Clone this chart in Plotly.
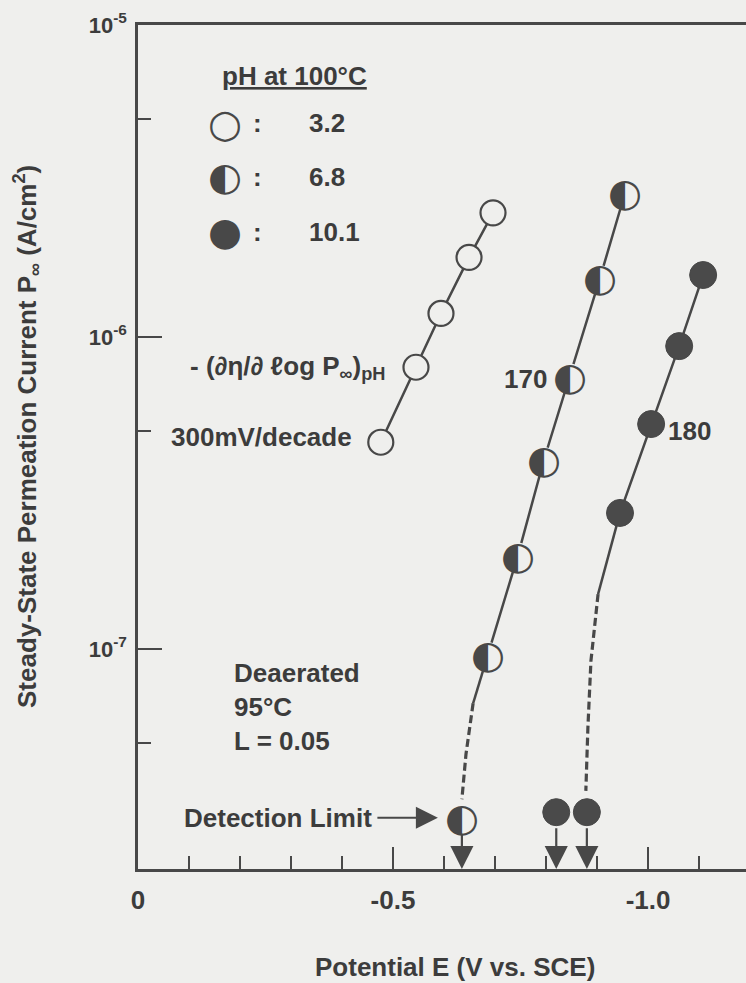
import numpy as np
import plotly.graph_objects as go

# ---------------- data: steady-state permeation current vs potential ----------------
# pH 3.2 (open circles)
E_ph32 = [-0.476, -0.545, -0.594, -0.649, -0.696]
P_ph32 = [4.6e-7, 8.0e-7, 1.19e-6, 1.80e-6, 2.50e-6]

# pH 6.8 (half-filled circles)
E_ph68 = [-0.686, -0.745, -0.796, -0.847, -0.906, -0.955]
P_ph68 = [9.6e-8, 2.0e-7, 4.05e-7, 7.5e-7, 1.55e-6, 2.9e-6]
E_ph68_tail = [-0.686, -0.657]
P_ph68_tail = [9.6e-8, 6.7e-8]
E_ph68_dash = [-0.657, -0.643, -0.635]
P_ph68_dash = [6.7e-8, 4.6e-8, 3.3e-8]
E_ph68_dl = [-0.635]
P_ph68_dl = [2.88e-8]

# pH 10.1 (filled circles)
E_ph101 = [-0.945, -1.006, -1.061, -1.108]
P_ph101 = [2.73e-7, 5.26e-7, 9.35e-7, 1.58e-6]
E_ph101_tail = [-0.945, -0.902]
P_ph101_tail = [2.73e-7, 1.50e-7]
E_ph101_dash = [-0.902, -0.888, -0.882, -0.878]
P_ph101_dash = [1.50e-7, 9.16e-8, 5.58e-8, 3.51e-8]
E_ph101_dl = [-0.820, -0.880]
P_ph101_dl = [3.0e-8, 3.0e-8]

PH_VALUES = ["3.2", "6.8", "10.1"]

# ---------------- axes ----------------
X_RANGE = [0.0, -1.192]
Y_RANGE_LOG = [-7.705, -5.0]
X_MAJOR = [0.0, -0.5, -1.0]
X_MAJOR_TEXT = ["0", "-0.5", "-1.0"]
X_MINOR = [-0.1, -0.2, -0.3, -0.4, -0.6, -0.7, -0.8, -0.9, -1.1]
Y_MAJOR = [1e-5, 1e-6, 1e-7]
Y_MAJOR_TEXT = ["10<sup>-5</sup>", "10<sup>-6</sup>", "10<sup>-7</sup>"]
Y_MINOR = [5e-6, 5e-7, 5e-8]

# ---------------- geometry & style ----------------
W, H = 746, 983
M_L, M_R, M_T, M_B = 138, 0, 25, 114
PLOT_W = W - M_L - M_R
PLOT_H = H - M_T - M_B
PX_PER_DECADE = PLOT_H / (Y_RANGE_LOG[1] - Y_RANGE_LOG[0])

BG = "#efefed"
INK = "#3c3c3c"
LINE = "#484848"
FILL = "#4a4a4a"
FONT = "Liberation Sans, Arial, Helvetica, sans-serif"
GLYPH_FONT = "DejaVu Sans"
MARKER_D = 27
GLYPH_SIZE = 39
GLYPH_YSHIFT = 0


def paper_x(px):
    return (px - M_L) / PLOT_W


def paper_y(py):
    return (H - M_B - py) / PLOT_H


def lines(x, y, dash=None, width=2.5):
    return go.Scatter(x=x, y=y, mode="lines", showlegend=False, hoverinfo="skip",
                      line=dict(color=LINE, width=width, dash=dash))


fig = go.Figure()

# connecting lines and their extensions toward the detection limit
fig.add_trace(lines(E_ph32, P_ph32))
fig.add_trace(lines(E_ph68, P_ph68))
fig.add_trace(lines(E_ph68_tail, P_ph68_tail))
fig.add_trace(lines(E_ph68_dash, P_ph68_dash, dash="8px,4px", width=3.2))
fig.add_trace(lines(E_ph101, P_ph101))
fig.add_trace(lines(E_ph101_tail, P_ph101_tail))
fig.add_trace(lines(E_ph101_dash, P_ph101_dash, dash="8px,4px", width=3.2))

# open circles, pH 3.2
fig.add_trace(go.Scatter(x=E_ph32, y=P_ph32, mode="markers", showlegend=False, hoverinfo="skip",
                         marker=dict(symbol="circle", size=MARKER_D - 2, color=BG,
                                     line=dict(color=LINE, width=2.2))))

# half-filled circles, pH 6.8: background disc, glyph drawn on top
E_half = E_ph68 + E_ph68_dl
P_half = P_ph68 + P_ph68_dl
fig.add_trace(go.Scatter(x=E_half, y=P_half, mode="markers", showlegend=False, hoverinfo="skip",
                         marker=dict(symbol="circle", size=MARKER_D - 2, color=BG,
                                     line=dict(color=BG, width=0))))

# filled circles, pH 10.1
fig.add_trace(go.Scatter(x=E_ph101 + E_ph101_dl, y=P_ph101 + P_ph101_dl, mode="markers",
                         showlegend=False, hoverinfo="skip",
                         marker=dict(symbol="circle", size=MARKER_D, color=FILL,
                                     line=dict(color=LINE, width=1))))

ann = []
for e, p in zip(E_half, P_half):
    ann.append(dict(x=e, y=np.log10(p), xref="x", yref="y", text="\u25d0", showarrow=False,
                    xanchor="center", yanchor="middle", yshift=GLYPH_YSHIFT,
                    font=dict(family=GLYPH_FONT, size=GLYPH_SIZE, color=LINE)))

# arrows below the detection-limit points
for e, p in zip(E_ph68_dl + E_ph101_dl, P_ph68_dl + P_ph101_dl):
    tail = np.log10(p) - (MARKER_D / 2 + 1) / PX_PER_DECADE
    ann.append(dict(x=e, y=Y_RANGE_LOG[0], xref="x", yref="y", ax=e, ay=tail,
                    axref="x", ayref="y", text="", showarrow=True, arrowhead=2,
                    arrowsize=2.1, arrowwidth=2.2, arrowcolor=LINE, standoff=0))

txt = dict(family=FONT, size=26, color=INK, weight="bold")

# "Detection Limit ->"
ann.append(dict(x=E_ph68_dl[0], y=np.log10(P_ph68_dl[0]), xref="x", yref="y",
                text="Detection Limit", showarrow=True, ax=-184, ay=0, standoff=24,
                borderpad=5, arrowhead=2, arrowsize=2.2, arrowwidth=2, arrowcolor=LINE,
                font=txt))

# slope labels
ann.append(dict(x=E_ph32[1], y=np.log10(P_ph32[1]), xref="x", yref="y", showarrow=False,
                text="- (\u2202\u03b7/\u2202 \u2113og P<sub>\u221e</sub>)<sub>pH</sub>",
                xanchor="right", yanchor="middle", xshift=-28, font=txt))
ann.append(dict(x=E_ph32[0], y=np.log10(P_ph32[0]), xref="x", yref="y", showarrow=False,
                text="300mV/decade", xanchor="right", yanchor="middle", xshift=-27, yshift=5,
                font=txt))
ann.append(dict(x=E_ph68[3], y=np.log10(P_ph68[3]), xref="x", yref="y", showarrow=False,
                text="170", xanchor="right", yanchor="middle", xshift=-21, yshift=-3, font=txt))
ann.append(dict(x=E_ph101[1], y=np.log10(P_ph101[1]), xref="x", yref="y", showarrow=False,
                text="180", xanchor="left", yanchor="middle", xshift=15, yshift=-7, font=txt))

# conditions
ann.append(dict(x=paper_x(232), y=paper_y(707), xref="paper", yref="paper", showarrow=False,
                text="Deaerated<br>95\u00b0C<br>L = 0.05", align="left",
                xanchor="left", yanchor="middle", font=txt))

# key
ann.append(dict(x=paper_x(294), y=paper_y(76), xref="paper", yref="paper", showarrow=False,
                text="<u>pH at 100\u00b0C</u>", xanchor="center", yanchor="middle", font=txt))
key_rows = [123, 177, 232]
key_glyphs = ["\u25cb", "\u25d0", "\u25cf"]
for row_y, g, v in zip(key_rows, key_glyphs, PH_VALUES):
    ann.append(dict(x=paper_x(225), y=paper_y(row_y), xref="paper", yref="paper",
                    showarrow=False, text=g, xanchor="center", yanchor="middle",
                    yshift=GLYPH_YSHIFT,
                    font=dict(family=GLYPH_FONT, size=GLYPH_SIZE, color=LINE)))
    ann.append(dict(x=paper_x(257), y=paper_y(row_y), xref="paper", yref="paper",
                    showarrow=False, text=":", xanchor="center", yanchor="middle", font=txt))
    ann.append(dict(x=paper_x(307), y=paper_y(row_y), xref="paper", yref="paper",
                    showarrow=False, text=v, xanchor="left", yanchor="middle", font=txt))

# axis titles
ann.append(dict(x=paper_x(455), y=paper_y(967), xref="paper", yref="paper", showarrow=False,
                text="Potential E (V vs. SCE)", xanchor="center", yanchor="middle", font=txt))
ann.append(dict(x=paper_x(27), y=paper_y(437), xref="paper", yref="paper", showarrow=False,
                text="Steady-State Permeation Current P<sub>\u221e</sub> (A/cm<sup>2</sup>)",
                textangle=-90, xanchor="center", yanchor="middle", font=txt))

fig.update_layout(
    width=W, height=H,
    margin=dict(l=M_L, r=M_R, t=M_T, b=M_B, pad=0),
    paper_bgcolor=BG, plot_bgcolor=BG,
    showlegend=False,
    annotations=ann,
    xaxis=dict(range=X_RANGE, showgrid=False, zeroline=False,
               showline=True, linecolor=LINE, linewidth=2.5, mirror=True,
               tickmode="array", tickvals=X_MAJOR, ticktext=X_MAJOR_TEXT,
               ticks="inside", ticklen=22, tickwidth=2, tickcolor=LINE,
               ticklabelstandoff=6,
               tickfont=dict(family=FONT, size=26, color=INK, weight="bold"),
               minor=dict(tickmode="array", tickvals=X_MINOR, ticks="inside",
                          ticklen=13, tickwidth=2, tickcolor=LINE, showgrid=False)),
    yaxis=dict(type="log", range=Y_RANGE_LOG, showgrid=False, zeroline=False,
               showline=True, linecolor=LINE, linewidth=2.5, mirror=False,
               tickmode="array", tickvals=Y_MAJOR, ticktext=Y_MAJOR_TEXT,
               ticks="inside", ticklen=24, tickwidth=2, tickcolor=LINE,
               ticklabelstandoff=4,
               tickfont=dict(family=FONT, size=22, color=INK, weight="bold"),
               minor=dict(tickmode="array", tickvals=Y_MINOR, ticks="inside",
                          ticklen=13, tickwidth=2, tickcolor=LINE, showgrid=False)),
)

fig.write_html("out.html")
